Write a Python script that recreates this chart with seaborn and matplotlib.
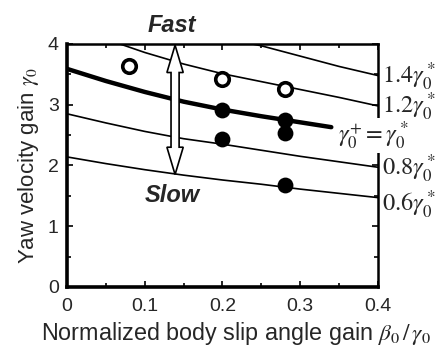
import matplotlib
matplotlib.use("Agg")
import matplotlib.pyplot as plt
import seaborn as sns
import pandas as pd
from matplotlib.patches import Polygon

# curve grid (normalized body slip angle gain)
XS = [0.0, 0.05, 0.1, 0.15, 0.2, 0.25, 0.3, 0.35, 0.4]

# yaw velocity gain along each constant-gain curve
curve_14 = [None, None, None, None, 4.10, 3.97, 3.80, 3.63, 3.48]
curve_12 = [None, 4.08, 3.86, 3.67, 3.51, 3.38, 3.25, 3.12, 2.98]
curve_08 = [2.85, 2.70, 2.56, 2.44, 2.35, 2.25, 2.15, 2.06, 1.97]
curve_06 = [2.14, 2.03, 1.93, 1.84, 1.76, 1.69, 1.61, 1.54, 1.47]

# reference curve gamma0+ = gamma0*
ref_x = [0.0, 0.05, 0.1, 0.15, 0.2, 0.25, 0.3, 0.34]
ref_y = [3.59, 3.39, 3.21, 3.05, 2.92, 2.81, 2.71, 2.63]

# measured points
open_x = [0.08, 0.2, 0.28]
open_y = [3.64, 3.42, 3.26]
filled_x = [0.2, 0.28, 0.28, 0.2, 0.28]
filled_y = [2.92, 2.75, 2.53, 2.43, 1.67]

curve_labels = [r"$1.4\gamma_0^*$", r"$1.2\gamma_0^*$", r"$0.8\gamma_0^*$", r"$0.6\gamma_0^*$"]
label_y = [3.45, 2.97, 1.95, 1.35]


def main() -> None:
    sns.set_theme(style="ticks")
    plt.rcParams["font.family"] = ["Liberation Sans", "DejaVu Sans"]
    plt.rcParams["mathtext.fontset"] = "stix"

    fig, ax = plt.subplots(figsize=(4.41, 3.49), dpi=100)
    fig.subplots_adjust(left=0.152, right=0.857, bottom=0.178, top=0.874)

    for ys in [curve_14, curve_12, curve_08, curve_06]:
        d = pd.DataFrame({"x": XS, "y": ys}).dropna()
        sns.lineplot(data=d, x="x", y="y", ax=ax, color="black", lw=1.2)
    sns.lineplot(x=ref_x, y=ref_y, ax=ax, color="black", lw=3.2)

    sns.scatterplot(x=filled_x, y=filled_y, ax=ax, s=130, color="black",
                    edgecolor="black", linewidth=0, zorder=5)
    sns.scatterplot(x=open_x, y=open_y, ax=ax, s=95, color="white",
                    edgecolor="black", linewidth=2.6, zorder=5)

    ax.set_xlim(0, 0.4)
    ax.set_ylim(0, 4)
    ax.set_xticks([0, 0.1, 0.2, 0.3, 0.4])
    ax.set_xticklabels(["0", "0.1", "0.2", "0.3", "0.4"])
    ax.set_xticks([0.05, 0.15, 0.25, 0.35], minor=True)
    ax.set_yticks([0, 1, 2, 3, 4])
    ax.set_yticks([0.5, 1.5, 2.5, 3.5], minor=True)
    ax.tick_params(which="both", direction="in", top=True, right=True,
                   labelsize=14, width=1.2, color="black")
    ax.tick_params(which="major", length=4)
    ax.tick_params(which="minor", length=3)
    ax.tick_params(axis="x", which="major", pad=8)
    ax.tick_params(axis="y", which="major", pad=6)
    for side in ["left", "bottom"]:
        ax.spines[side].set_linewidth(2.6)
    for side in ["top", "right"]:
        ax.spines[side].set_linewidth(1.8)
    for sp in ax.spines.values():
        sp.set_color("black")

    ax.set_xlabel(r"Normalized body slip angle gain $\beta_0\,/\,\gamma_0$",
                  fontsize=16.8)
    ax.xaxis.set_label_coords(0.545, -0.135)
    ax.set_ylabel(r"Yaw velocity gain $\gamma_0$", fontsize=16, labelpad=5)

    # curve labels on the right
    for lab, yv in zip(curve_labels, label_y):
        ax.text(0.405, yv, lab, fontsize=17.5, va="center", ha="left", clip_on=False)
    ax.text(0.349, 2.49, r"$\gamma_0^{+}=\gamma_0^*$", fontsize=17.5, va="center",
            ha="left", clip_on=False, zorder=6,
            bbox=dict(boxstyle="square,pad=0.05", fc="white", ec="none"))

    # hollow double arrow between Fast and Slow
    ax_x, y_lo, y_hi = 0.139, 1.85, 3.98
    sw, hw, hl = 0.0052, 0.0105, 0.45
    pts = [(ax_x, y_hi), (ax_x + hw, y_hi - hl), (ax_x + sw, y_hi - hl),
           (ax_x + sw, y_lo + hl), (ax_x + hw, y_lo + hl), (ax_x, y_lo),
           (ax_x - hw, y_lo + hl), (ax_x - sw, y_lo + hl), (ax_x - sw, y_hi - hl),
           (ax_x - hw, y_hi - hl)]
    ax.add_patch(Polygon(pts, closed=True, fc="white", ec="black", lw=1.2,
                         zorder=4, clip_on=False))
    ax.text(ax_x - 0.004, 4.30, "Fast", fontsize=17, fontweight="bold",
            style="italic", ha="center", va="center", clip_on=False)
    ax.text(ax_x - 0.004, 1.51, "Slow", fontsize=17, fontweight="bold",
            style="italic", ha="center", va="center")

    fig.savefig("out.png", dpi=100)


if __name__ == "__main__":
    main()
